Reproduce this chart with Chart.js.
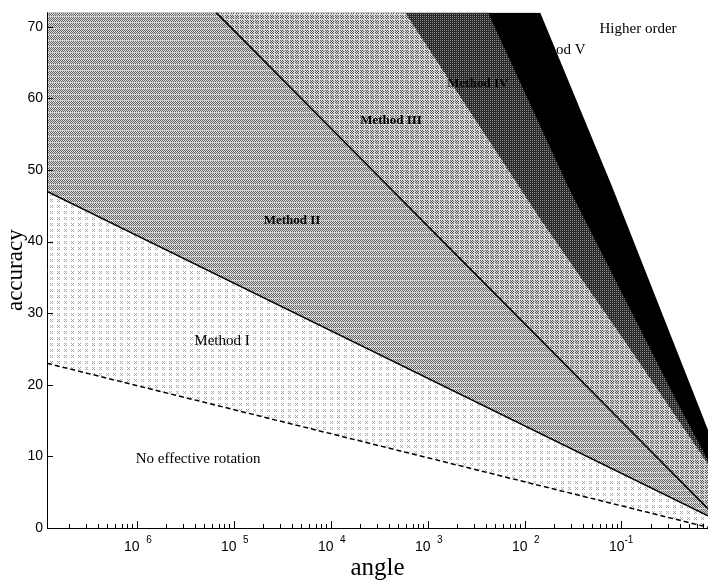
<!DOCTYPE html>
<html>
<head>
<meta charset="utf-8">
<script src="https://cdn.jsdelivr.net/npm/chart.js@4"></script>
<style>
  body { margin: 0; background: #fff; }
  #wrap { width: 708px; height: 584px; }
</style>
</head>
<body>
<div id="wrap"><canvas id="myChart"></canvas></div>
<script>
// axis ranges
const angleMin = 1.19e-7;
const angleMax = 0.78;
const accMax = 72;

// ticks
const xTickValues = [1e-6, 1e-5, 1e-4, 1e-3, 1e-2, 1e-1];
const xTickExps = ['6', '5', '4', '3', '2', '-1'];
const yTickValues = [0, 10, 20, 30, 40, 50, 60, 70];

// region boundaries, [angle, accuracy]
// (points at 72 = where the boundary leaves the top of the plot)
const edgeNoRot = [[1.19e-7, 23.0], [0.78, 0.1]];
const edgeMethod1 = [[1.19e-7, 47.0], [0.78, 1.7]];
const edgeMethod2 = [[1.19e-7, 72], [6.58e-6, 72], [0.78, 2.7]];
const edgeMethod3 = [[1.19e-7, 72], [5.86e-4, 72], [1.45e-2, 43.2], [0.155, 23.0], [0.78, 8.9]];
const edgeMethod4 = [[1.19e-7, 72], [4.20e-3, 72], [2.81e-2, 47.7], [0.374, 17.6], [0.78, 9.4]];
const edgeMethod5 = [[1.19e-7, 72], [1.45e-2, 72], [7.99e-2, 47.7], [0.601, 17.6], [0.78, 13.7]];

// region names and where they are written
const regionNames = ['No effective rotation', 'Method I', 'Method II', 'Method III', 'Method IV', 'Method V', 'Higher order'];
const regionAngle = [4.3e-6, 7.6e-6, 4.0e-5, 4.2e-4, 3.3e-3, 2.06e-2, 0.148];
const regionAcc = [9.6, 26.1, 42.9, 56.9, 62.0, 66.7, 69.7];

var ctx = document.getElementById('myChart').getContext('2d');

function toXY(arr) {
  return arr.map(p => ({ x: p[0], y: p[1] }));
}

// small dithered tiles, like the scanned shading
function makePattern(w, h, fn) {
  const c = document.createElement('canvas');
  c.width = w; c.height = h;
  const g = c.getContext('2d');
  for (let i = 0; i < w; i++) {
    for (let j = 0; j < h; j++) {
      g.fillStyle = fn(i, j);
      g.fillRect(i, j, 1, 1);
    }
  }
  return ctx.createPattern(c, 'repeat');
}

const patI = makePattern(7, 6, (i, j) => {
  const cross = (j === 1 || j === 3) ? (i === 1 || i === 3) : (j === 2 && i === 2);
  return cross ? '#a8a8a8' : '#ffffff';
});
const patII = makePattern(4, 6, (i, j) => j === 4 ? '#d0d0d0' : ((i + j) % 2 ? '#dcdcdc' : '#666666'));
const patIII = makePattern(5, 5, (i, j) => (i === 4 || j === 4) ? '#d8d8d8' : ((i + j) % 2 ? '#dadada' : '#555555'));
const patIV = makePattern(2, 2, (i, j) => (i === 0 && j === 0) ? '#8a8a8a' : '#2a2a2a');

function edgeLine(arr, dash) {
  return {
    data: toXY(arr),
    borderColor: '#000',
    borderWidth: 1.5,
    borderDash: dash || [],
    pointRadius: 0,
    fill: false
  };
}
function region(arr, bg) {
  return {
    data: toXY(arr),
    borderColor: 'rgba(0,0,0,0)',
    borderWidth: 0,
    backgroundColor: bg,
    pointRadius: 0,
    fill: 'origin'
  };
}

// drawn last -> first, so the lines end up on top
const datasets = [
  edgeLine(edgeNoRot, [5, 3]),
  edgeLine(edgeMethod1),
  edgeLine(edgeMethod2.slice(1)),
  region(edgeNoRot, '#ffffff'),
  region(edgeMethod1, patI),
  region(edgeMethod2, patII),
  region(edgeMethod3, patIII),
  region(edgeMethod4, patIV),
  region(edgeMethod5, '#000000')
];

// minor tick positions 2..9 per decade
const xMinor = [];
for (let k = -7; k <= -1; k++) {
  for (let m = 2; m <= 9; m++) {
    const v = m * Math.pow(10, k);
    if (v > angleMin && v < angleMax) xMinor.push(v);
  }
}

const decor = {
  id: 'decor',
  afterDatasetsDraw(chart) {
    const c = chart.ctx;
    const a = chart.chartArea;
    const sx = chart.scales.x, sy = chart.scales.y;
    c.save();
    c.strokeStyle = '#000';
    c.lineWidth = 1;
    c.beginPath();
    c.moveTo(a.left + 0.5, a.top);
    c.lineTo(a.left + 0.5, a.bottom + 0.5);
    c.lineTo(a.right, a.bottom + 0.5);
    // y ticks pointing inward
    yTickValues.forEach(v => {
      const py = Math.round(sy.getPixelForValue(v)) + 0.5;
      c.moveTo(a.left, py);
      c.lineTo(a.left + 6, py);
    });
    // x ticks pointing up
    xTickValues.forEach(v => {
      const px = Math.round(sx.getPixelForValue(v)) + 0.5;
      c.moveTo(px, a.bottom);
      c.lineTo(px, a.bottom - 7);
    });
    xMinor.forEach(v => {
      const px = Math.round(sx.getPixelForValue(v)) + 0.5;
      c.moveTo(px, a.bottom);
      c.lineTo(px, a.bottom - 4);
    });
    c.stroke();

    // x tick labels: 10 with raised exponent
    c.fillStyle = '#000';
    c.textBaseline = 'middle';
    xTickValues.forEach((v, i) => {
      const px = sx.getPixelForValue(v);
      c.font = '14px "Liberation Sans", Arial, sans-serif';
      c.textAlign = 'right';
      c.fillText('10', px + 3, a.bottom + 19);
      c.font = '10px "Liberation Sans", Arial, sans-serif';
      c.textAlign = 'left';
      const off = xTickExps[i].charAt(0) === '-' ? 3 : 9.5;
      c.fillText(xTickExps[i], px + off, a.bottom + 12);
    });

    // region names
    c.textAlign = 'center';
    regionNames.forEach((name, i) => {
      const bold = name === 'Method II' || name === 'Method III' || name === 'Method IV';
      c.font = bold ? 'bold 13px "Liberation Serif", serif' : '15px "Liberation Serif", serif';
      c.fillText(name, sx.getPixelForValue(regionAngle[i]), sy.getPixelForValue(regionAcc[i]));
    });
    c.restore();
  }
};

var myChart = new Chart(ctx, {
  type: 'line',
  data: { datasets: datasets },
  options: {
    responsive: true,
    maintainAspectRatio: false,
    animation: false,
    devicePixelRatio: 1,
    events: [],
    layout: { padding: { top: 3, left: 0, right: 0, bottom: 0 } },
    plugins: {
      legend: { display: false },
      tooltip: { enabled: false }
    },
    elements: { line: { tension: 0 } },
    scales: {
      x: {
        type: 'logarithmic',
        min: angleMin,
        max: angleMax,
        ticks: { display: false },
        grid: { display: false, drawTicks: false },
        border: { display: false },
        title: {
          display: true,
          text: 'angle',
          color: '#000',
          font: { family: '"Liberation Serif", serif', size: 25 },
          padding: { top: 0, bottom: 1 }
        },
        afterFit(s) { s.height = 56; }
      },
      y: {
        type: 'linear',
        min: 0,
        max: accMax,
        afterBuildTicks(s) { s.ticks = yTickValues.map(v => ({ value: v })); },
        ticks: {
          color: '#000',
          padding: 4,
          font: { family: '"Liberation Sans", Arial, sans-serif', size: 14 }
        },
        grid: { display: false, drawTicks: false },
        border: { display: false },
        title: {
          display: true,
          text: 'accuracy',
          color: '#000',
          font: { family: '"Liberation Serif", serif', size: 23 },
          padding: { top: 2, bottom: 0 }
        },
        afterFit(s) { s.width = 47; }
      }
    }
  },
  plugins: [decor]
});
</script>
</body>
</html>
